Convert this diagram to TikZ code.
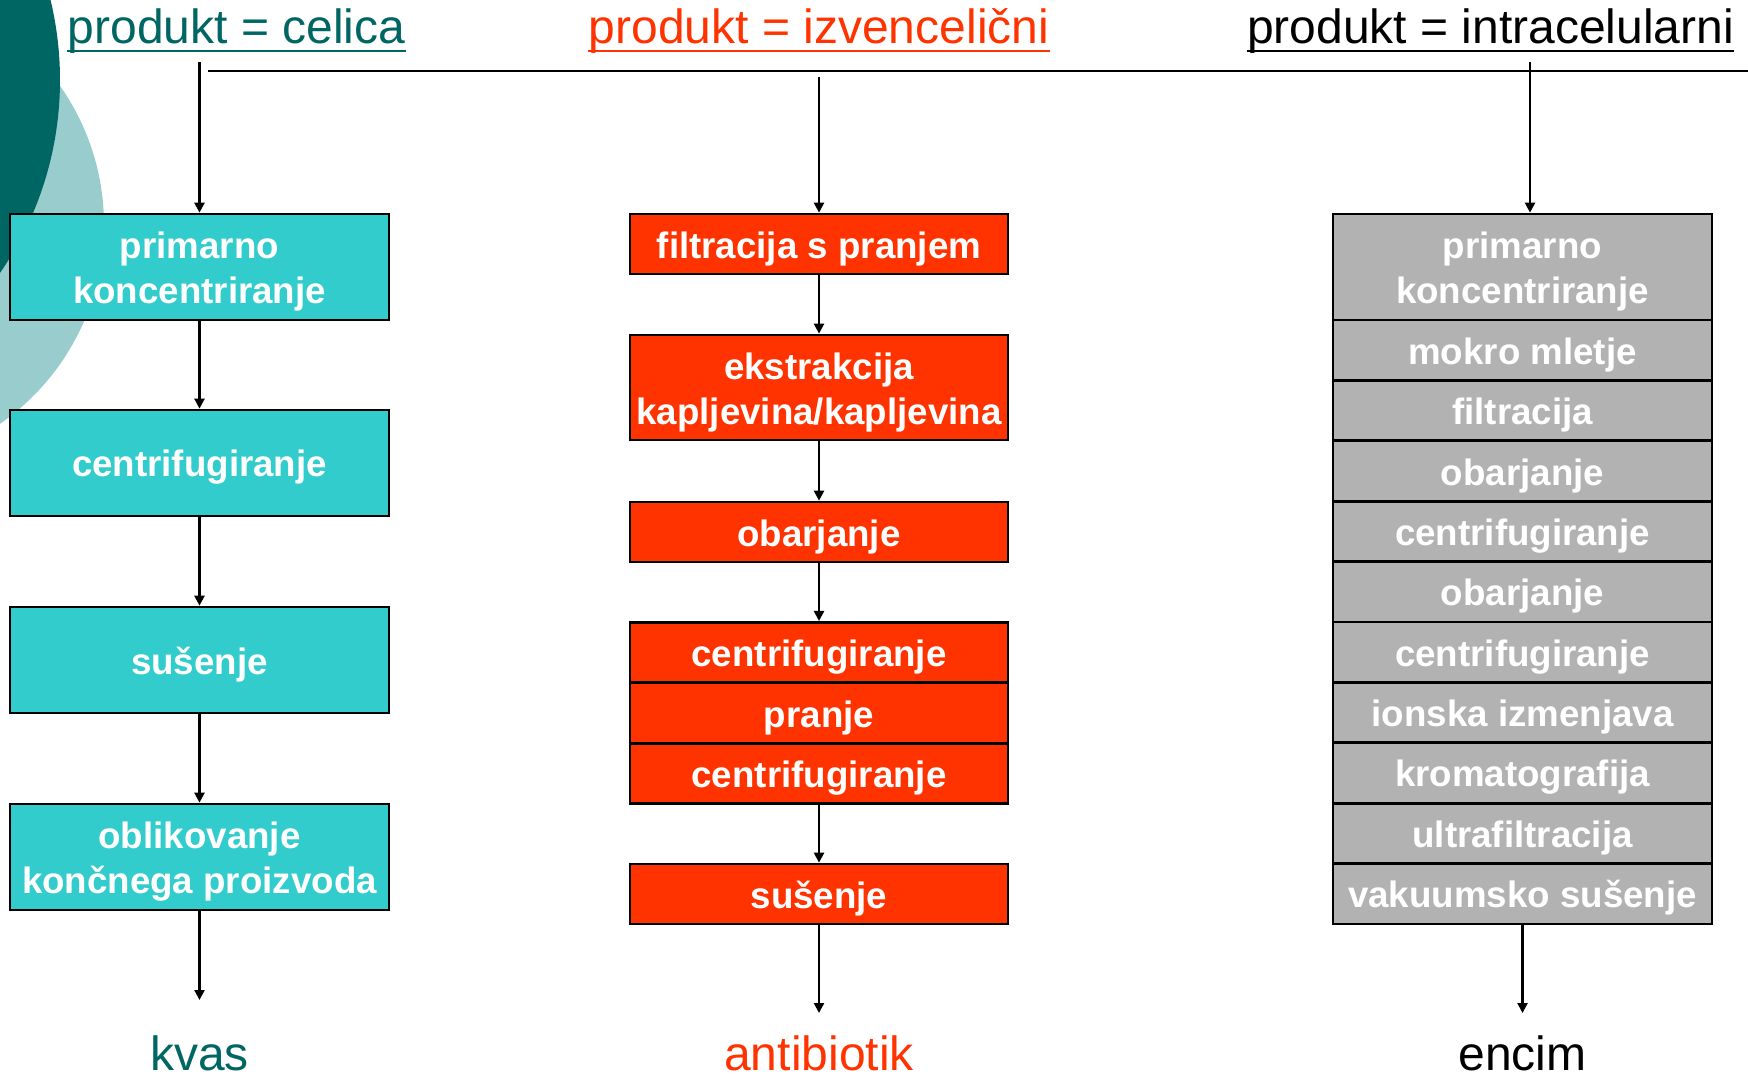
\documentclass[tikz,border=0pt]{standalone}
\usepackage{fontspec}
\setmainfont{Liberation Sans}
\usetikzlibrary{arrows.meta}
\definecolor{tealD}{RGB}{0,102,99}
\definecolor{tealL}{RGB}{153,204,204}
\definecolor{cyanbox}{RGB}{51,204,204}
\definecolor{redbox}{RGB}{255,51,0}
\definecolor{greybox}{RGB}{178,178,178}
\newcommand\bstr{\rule[-0.144em]{0pt}{1.117em}}
\begin{document}
\begin{tikzpicture}[x=0.5pt,y=-0.5pt,
  box/.style={draw=black,line width=1.35pt,inner sep=0pt,text=white,
    font=\fontsize{18.35pt}{22.5pt}\selectfont\bfseries,align=center},
  colL/.style={box,fill=cyanbox,minimum width=189.5pt},
  colM/.style={box,fill=redbox,minimum width=189pt},
  colR/.style={box,fill=greybox,minimum width=189.5pt},
  rowT/.style={minimum height=53pt},
  rowS/.style={minimum height=30.2pt},
  arr/.style={line width=1.15pt,-{Triangle[length=5pt,width=5pt]}},
  ttl/.style={font=\fontsize{24pt}{28pt}\selectfont,inner sep=0pt,anchor=base},
  ul/.style={line width=1.25pt},
]
\useasboundingbox (0,0) rectangle (1748,1076);
\fill[white] (0,0) rectangle (1748,1076);
\begin{scope}
  \clip (0,0) rectangle (1748,1076);
  \fill[tealL] (-138,225) circle [radius=121pt];
  \fill[tealD] (-280,80) circle [radius=170pt];
\end{scope}

% titles
\node[ttl,text=tealD] (t1) at (236.5,43) {produkt = celica};
\node[ttl,text=redbox] (t2) at (819,43) {produkt = izvencelični};
\node[ttl,text=black] (t3) at (1490.5,43) {produkt = intracelularni};
\draw[ul,tealD] ([yshift=-4pt]t1.base west) -- ([yshift=-4pt]t1.base east);
\draw[ul,redbox] ([yshift=-4pt]t2.base west) -- ([yshift=-4pt]t2.base east);
\draw[ul,black] ([yshift=-4pt]t3.base west) -- ([yshift=-4pt]t3.base east);

% horizontal line
\coordinate (hl) at (208,71);
\coordinate (hr) at (1748,71);
\draw[line width=1.25pt] (hl) -- (hr);

% left column
\node[colL,rowT] (c1) at (199.5,267) {\bstr primarno\\\bstr koncentriranje};
\node[colL,rowT] (c2) at (199.5,463) {\bstr centrifugiranje};
\node[colL,rowT] (c3) at (199.5,660) {\bstr sušenje};
\node[colL,rowT] (c4) at (199.5,857) {\bstr oblikovanje\\\bstr končnega proizvoda};

% middle column
\node[colM,minimum height=30pt] (m1) at (819,244) {\bstr filtracija s pranjem};
\node[colM,minimum height=52.5pt] (m2) at (819,387.5) {\bstr ekstrakcija\\\bstr kapljevina/kapljevina};
\node[colM,minimum height=30pt] (m3) at (819,532) {\bstr obarjanje};
\node[colM,rowS] (m4) at (819,652.5) {\bstr centrifugiranje};
\node[colM,rowS] (m5) at (819,713) {\bstr pranje};
\node[colM,rowS] (m6) at (819,773.4) {\bstr centrifugiranje};
\node[colM,minimum height=30pt] (m7) at (819,894) {\bstr sušenje};

% right column
\node[colR,rowT] (g1) at (1522.5,267) {\bstr primarno\\\bstr koncentriranje};
\node[colR,rowS] (g2) at (1522.5,350.2) {\bstr mokro mletje};
\node[colR,rowS] (g3) at (1522.5,410.6) {\bstr filtracija};
\node[colR,rowS] (g4) at (1522.5,471) {\bstr obarjanje};
\node[colR,rowS] (g5) at (1522.5,531.4) {\bstr centrifugiranje};
\node[colR,rowS] (g6) at (1522.5,591.8) {\bstr obarjanje};
\node[colR,rowS] (g7) at (1522.5,652.2) {\bstr centrifugiranje};
\node[colR,rowS] (g8) at (1522.5,712.6) {\bstr ionska izmenjava};
\node[colR,rowS] (g9) at (1522.5,773) {\bstr kromatografija};
\node[colR,rowS] (g10) at (1522.5,833.4) {\bstr ultrafiltracija};
\node[colR,rowS] (g11) at (1522.5,893.8) {\bstr vakuumsko sušenje};

% products
\node[ttl,text=tealD] (p1) at (199.5,1070) {kvas};
\node[ttl,text=redbox] (p2) at (819,1070) {antibiotik};
\node[ttl,text=black] (p3) at (1522.5,1070) {encim};

% arrow start / end points
\coordinate (s1) at (199.5,62);
\coordinate (s2) at (819,77);
\coordinate (s3) at (1530,62);
\coordinate (e1) at (199.5,1000);
\coordinate (e2) at (819,1013);
\coordinate (e3) at (1522.5,1013);

\draw[arr] (s1) -- (c1.north);
\draw[arr] (c1.south) -- (c2.north);
\draw[arr] (c2.south) -- (c3.north);
\draw[arr] (c3.south) -- (c4.north);
\draw[arr] (c4.south) -- (e1);

\draw[arr] (s2) -- (m1.north);
\draw[arr] (m1.south) -- (m2.north);
\draw[arr] (m2.south) -- (m3.north);
\draw[arr] (m3.south) -- (m4.north);
\draw[arr] (m6.south) -- (m7.north);
\draw[arr] (m7.south) -- (e2);

\draw[arr] (s3) -- (s3 |- g1.north);
\draw[arr] (g11.south) -- (e3);
\end{tikzpicture}
\end{document}
